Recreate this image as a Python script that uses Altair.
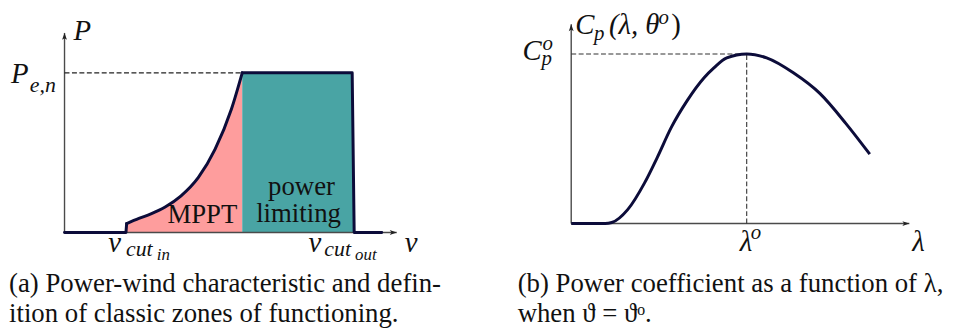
import altair as alt
import pandas as pd

# ---------------- panel (a): power-wind characteristic ----------------
a_edge_v = [0, 1.85, 1.87, 5.35, 8.66, 8.72, 9.55]
a_edge_P = [0, 0, 0.056, 1.0, 1.0, 0, 0]
a_edge_part = ["s", "s", "s", "p", "p", "p", "p"]
mppt_v = [1.87, 2.24, 2.6, 3.03, 3.5, 4.03, 4.53, 5.02, 5.35]
mppt_P = [0.056, 0.088, 0.117, 0.160, 0.228, 0.345, 0.520, 0.770, 1.0]
lim_v = [5.35, 8.66, 8.72]
lim_P = [1.0, 1.0, 0]
P_rated = 1.0
v_rated = 5.35

# ---------------- panel (b): power coefficient ----------------
cp_lambda = [0, 1.0, 1.2, 1.67, 2.17, 2.55, 2.96, 3.43, 3.93, 4.22, 4.60,
             5.19, 5.78, 6.57, 7.36, 8.12, 8.83]
cp_value = [0, 0, 0.006, 0.082, 0.240, 0.392, 0.567, 0.725, 0.860, 0.918,
            0.977, 1.0, 0.977, 0.889, 0.766, 0.591, 0.409]
lambda_opt = 5.19
cp_opt = 1.0

# ---------------- labels ----------------
a_main_text = ["P", "P", "v", "v", "v"]
a_main_x = [0.269, -1.612, 1.313, 7.343, 10.239]
a_main_y = [1.205, 0.938, -0.124, -0.124, -0.124]
a_sub_text = ["e,n", "cut", "cut"]
a_sub_x = [-1.045, 1.851, 7.821]
a_sub_y = [0.882, -0.149, -0.149]
a_subsub_text = ["in", "out"]
a_subsub_x = [2.777, 8.746]
a_subsub_y = [-0.174, -0.174]
a_zone_text = ["MPPT", "power", "limiting"]
a_zone_x = [4.149, 7.134, 7.045]
a_zone_y = [0.062, 0.232, 0.068]
a_caption = ["(a) Power-wind characteristic and defin-",
             "ition of classic zones of functioning."]
a_caption_x = [-1.67, -1.67]
a_caption_y = [-0.373, -0.559]

b_main_text = ["C", "(λ, θ", "C", "λ", "λ"]
b_main_x = [0.117, 1.115, -1.437, 4.985, 10.088]
b_main_y = [1.117, 1.117, 0.965, -0.164, -0.164]
b_small_text = ["p", "o", "p", "o", "o"]
b_small_x = [0.674, 2.581, -0.880, -0.850, 5.308]
b_small_y = [1.082, 1.175, 0.936, 1.023, -0.094]
b_roman_text = [")"]
b_roman_x = [2.962]
b_roman_y = [1.117]
b_caption = ["(b) Power coefficient as a function of λ,",
             "when ϑ = ϑᵒ."]
b_caption_x = [-1.584, -1.584]
b_caption_y = [-0.4035, -0.579]

a_axis_x = [0, 0]; a_axis_x2 = [10, 0]; a_axis_y = [0, 0]; a_axis_y2 = [0, 1.25]
b_axis_x = [0, 0]; b_axis_x2 = [10, 0]; b_axis_y = [0, 0]; b_axis_y2 = [0, 1.175]
a_head_x = [10, 0]; a_head_y = [0, 1.25]; head_dir = ["right", "up"]
b_head_x = [10, 0]; b_head_y = [0, 1.175]

INK = "#0c0c3a"
AXIS = "#4a4a4a"
FONT = "Liberation Serif"
ARROW_R = "M0,0 L-2,-0.7 L-1.5,0 L-2,0.7 Z"
ARROW_U = "M0,0 L-0.7,2 L0,1.5 L0.7,2 Z"

XA = alt.Scale(domain=[0, 10], range=[57, 392], nice=False, zero=False)
YA = alt.Scale(domain=[0, 1], range=[225, 64], nice=False, zero=False)
XB = alt.Scale(domain=[0, 10], range=[568, 909], nice=False, zero=False)
YB = alt.Scale(domain=[0, 1], range=[216, 45], nice=False, zero=False)


def xy(xs, ys):
    return dict(x=alt.X("x:Q", scale=xs, axis=None),
                y=alt.Y("y:Q", scale=ys, axis=None))


def segs(xs, ys, x, x2, y, y2, color, width, dash=None):
    df = pd.DataFrame({"x": x, "x2": x2, "y": y, "y2": y2})
    kw = dict(color=color, strokeWidth=width)
    if dash:
        kw["strokeDash"] = dash
    return alt.Chart(df).mark_rule(**kw).encode(
        x=alt.X("x:Q", scale=xs, axis=None), x2="x2:Q",
        y=alt.Y("y:Q", scale=ys, axis=None), y2="y2:Q")


def heads(xs, ys, hx, hy):
    df = pd.DataFrame({"x": hx, "y": hy, "d": head_dir})
    return alt.Chart(df).mark_point(filled=True, color="#222", size=49,
                                    opacity=1, strokeWidth=0).encode(
        shape=alt.Shape("d:N", scale=alt.Scale(domain=["right", "up"],
                                               range=[ARROW_R, ARROW_U]),
                        legend=None),
        **xy(xs, ys))


def texts(xs, ys, t, x, y, size, italic=True, align="left"):
    df = pd.DataFrame({"t": t, "x": x, "y": y})
    kw = dict(font=FONT, fontSize=size, align=align, baseline="alphabetic",
              color="#111")
    if italic:
        kw["fontStyle"] = "italic"
    return alt.Chart(df).mark_text(**kw).encode(text="t:N", **xy(xs, ys))


pink = alt.Chart(pd.DataFrame({"x": mppt_v, "y": mppt_P})).mark_area(
    color="#fe9d9d", interpolate="monotone", opacity=1).encode(
    x=alt.X("x:Q", scale=XA, axis=None),
    y=alt.Y("y:Q", scale=YA, axis=None, stack=None))
teal = alt.Chart(pd.DataFrame({"x": lim_v, "y": lim_P})).mark_area(
    color="#49a4a4", opacity=1).encode(
    x=alt.X("x:Q", scale=XA, axis=None),
    y=alt.Y("y:Q", scale=YA, axis=None, stack=None))
a_axes = segs(XA, YA, a_axis_x, a_axis_x2, a_axis_y, a_axis_y2, AXIS, 1.4)
a_dash = segs(XA, YA, [0], [v_rated], [P_rated], [P_rated], "#222", 1.1, [5, 2.5])
a_edges = alt.Chart(pd.DataFrame({"x": a_edge_v, "y": a_edge_P, "part": a_edge_part})).mark_line(
    color=INK, strokeWidth=3, strokeJoin="round", strokeCap="round").encode(
    detail="part:N", **xy(XA, YA))
a_curve = alt.Chart(pd.DataFrame({"x": mppt_v, "y": mppt_P})).mark_line(
    color=INK, strokeWidth=3, interpolate="monotone", strokeCap="round").encode(**xy(XA, YA))

panel_a = alt.layer(
    pink, teal, a_axes, a_dash, a_edges, a_curve, heads(XA, YA, a_head_x, a_head_y),
    texts(XA, YA, a_main_text, a_main_x, a_main_y, 29),
    texts(XA, YA, a_sub_text, a_sub_x, a_sub_y, 22),
    texts(XA, YA, a_subsub_text, a_subsub_x, a_subsub_y, 17),
    texts(XA, YA, a_zone_text, a_zone_x, a_zone_y, 27, italic=False, align="center"),
    texts(XA, YA, a_caption, a_caption_x, a_caption_y, 27, italic=False),
)

b_axes = segs(XB, YB, b_axis_x, b_axis_x2, b_axis_y, b_axis_y2, AXIS, 1.4)
b_dash = segs(XB, YB, [0, lambda_opt], [lambda_opt, lambda_opt], [cp_opt, 0],
              [cp_opt, cp_opt], "#333", 1.1, [5, 2.5])
b_curve = alt.Chart(pd.DataFrame({"x": cp_lambda, "y": cp_value})).mark_line(
    color=INK, strokeWidth=3, interpolate="monotone").encode(**xy(XB, YB))

panel_b = alt.layer(
    b_axes, b_dash, b_curve, heads(XB, YB, b_head_x, b_head_y),
    texts(XB, YB, b_main_text, b_main_x, b_main_y, 29),
    texts(XB, YB, b_small_text, b_small_x, b_small_y, 21),
    texts(XB, YB, b_roman_text, b_roman_x, b_roman_y, 29, italic=False),
    texts(XB, YB, b_caption, b_caption_x, b_caption_y, 27, italic=False),
)

chart = alt.layer(panel_a, panel_b).resolve_scale(
    x="independent", y="independent", shape="independent"
).properties(
    width=949, height=327, padding=0,
    autosize=alt.AutoSizeParams(type="none"),
).configure_view(stroke=None)

chart.save("out.html", embed_options={"renderer": "svg", "actions": False})
